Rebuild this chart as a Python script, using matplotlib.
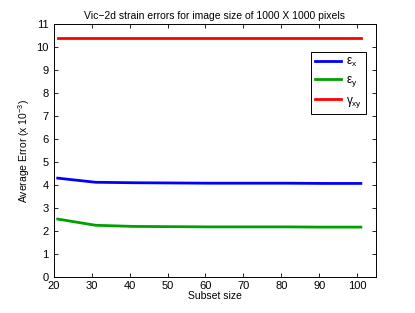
import matplotlib
matplotlib.use("Agg")
import matplotlib.pyplot as plt

subset = [21, 31, 41, 51, 61, 71, 81, 91, 101]
eps_x = [4.30, 4.12, 4.10, 4.09, 4.08, 4.08, 4.08, 4.07, 4.07]
eps_y = [2.52, 2.25, 2.20, 2.19, 2.18, 2.18, 2.18, 2.17, 2.17]
gam_xy = [10.4, 10.4, 10.4, 10.4, 10.4, 10.4, 10.4, 10.4, 10.4]
xticks = [20, 30, 40, 50, 60, 70, 80, 90, 100]
yticks = list(range(0, 12))

plt.rcParams['font.family'] = ['Liberation Sans', 'DejaVu Sans']
plt.rcParams['mathtext.fontset'] = 'custom'
plt.rcParams['mathtext.rm'] = 'Liberation Sans'
plt.rcParams['mathtext.it'] = 'Liberation Sans'

fig = plt.figure(figsize=(4.15, 3.13), dpi=100)
ax = fig.add_axes([0.130, 0.115, 0.776, 0.808])
ax.plot(subset, eps_x, color='#0000ff', lw=2, label=r'$\epsilon_x$')
ax.plot(subset, eps_y, color='#00a000', lw=2, label=r'$\epsilon_y$')
ax.plot(subset, gam_xy, color='#ff0000', lw=2, label=r'$\gamma_{xy}$')
ax.set_xlim(20, 105)
ax.set_ylim(0, 11)
ax.set_xticks(xticks)
ax.set_yticks(yticks)
ax.tick_params(direction='in', top=True, right=True, labelsize=8, length=3, width=0.6)
ax.tick_params(axis='x', pad=3)
ax.tick_params(axis='y', pad=4)
for s in ax.spines.values():
    s.set_linewidth(0.7)
ax.set_xlabel('Subset size', fontsize=7.5, labelpad=0)
ax.set_ylabel(r'Average Error (x 10$^{-3}$)', fontsize=7.5, labelpad=3)
ax.set_title('Vic\u22122d strain errors for image size of 1000 X 1000 pixels', fontsize=7.5, pad=4)
leg = ax.legend(loc='upper right', bbox_to_anchor=(0.98, 0.905), fontsize=8.5, fancybox=False,
                edgecolor='black', framealpha=1, handlelength=2.2, handletextpad=0.4,
                borderpad=0.35, labelspacing=0.45, borderaxespad=0.3)
leg.get_frame().set_linewidth(0.7)
fig.savefig('out.png', dpi=100)
